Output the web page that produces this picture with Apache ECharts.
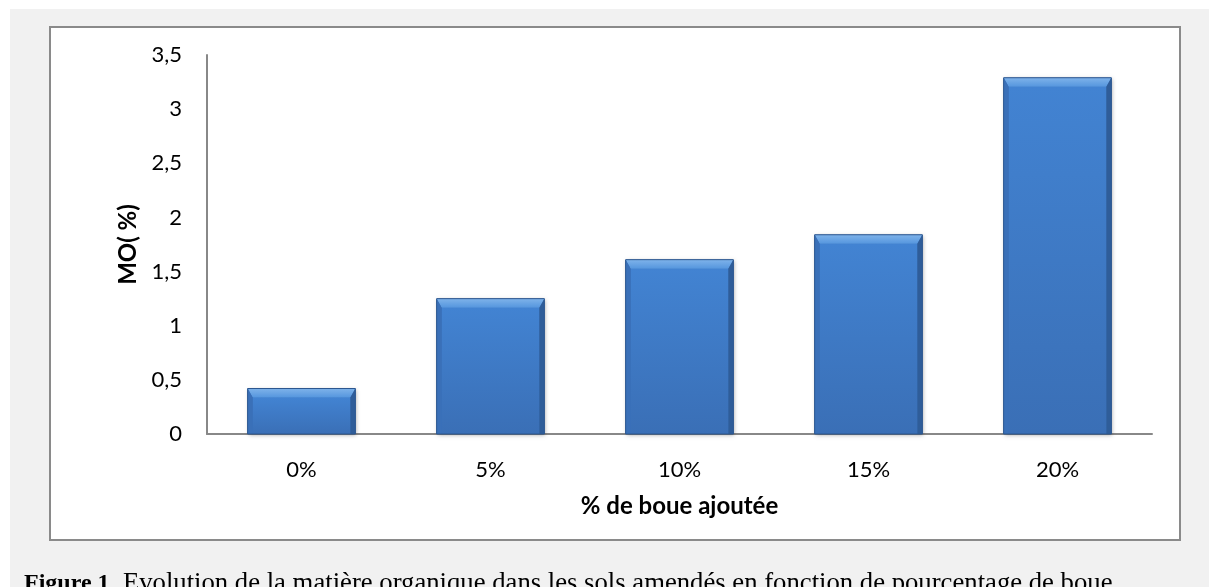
<!DOCTYPE html>
<html>
<head>
<meta charset="utf-8">
<script src="https://cdn.jsdelivr.net/npm/echarts@6/dist/echarts.min.js"></script>
<style>
html,body{margin:0;padding:0;background:#fff;}
#c{width:1209px;height:587px;}
</style>
</head>
<body>
<div id="c"></div>
<script>
const categories = ['0%', '5%', '10%', '15%', '20%'];
const moValues = [0.42, 1.25, 1.61, 1.84, 3.29];
const yTicks = ['0', '0,5', '1', '1,5', '2', '2,5', '3', '3,5'];
const yAxisTitle = 'MO( %)';
const xAxisTitle = '% de boue ajoutée';
const captionBold = 'Figure 1';
const captionText = '. Evolution de la matière organique dans les sols amendés en fonction de pourcentage de boue';

const chart = echarts.init(document.getElementById('c'), null, {renderer: 'canvas'});

function renderBar(params, api) {
  const v = api.value(1);
  const idx = api.value(0);
  const top = api.coord([idx, v]);
  const base = api.coord([idx, 0]);
  const bw = api.size([1, 0])[0] * 0.57;
  const x0 = top[0] - bw / 2, x1 = top[0] + bw / 2;
  const y0 = top[1], y1 = base[1];
  const b = Math.min(9, (y1 - y0) / 3);
  return {
    type: 'group',
    children: [
      {type: 'rect', shape: {x: x0, y: y0, width: bw, height: y1 - y0},
        style: {fill: '#3a72bb', shadowBlur: 4, shadowColor: 'rgba(0,0,0,0.35)', shadowOffsetX: 1, shadowOffsetY: 1}},
      {type: 'rect', shape: {x: x0 + 5, y: y0 + b, width: bw - 10, height: y1 - y0 - b},
        style: {fill: new echarts.graphic.LinearGradient(0, 0, 0, 1, [
          {offset: 0, color: '#4283d2'}, {offset: 1, color: '#3a6fb6'}])}},
      {type: 'polygon', shape: {points: [[x0, y0], [x1, y0], [x1 - 5, y0 + b], [x0 + 5, y0 + b]]},
        style: {fill: new echarts.graphic.LinearGradient(0, 0, 0, 1, [
          {offset: 0, color: '#7fb3ea'}, {offset: 1, color: '#5596de'}])}},
      {type: 'polygon', shape: {points: [[x0, y0], [x0 + 5, y0 + b], [x0 + 5, y1], [x0, y1]]},
        style: {fill: '#3a70b8'}},
      {type: 'polygon', shape: {points: [[x1, y0], [x1 - 5, y0 + b], [x1 - 5, y1], [x1, y1]]},
        style: {fill: '#2f5d99'}},
      {type: 'rect', shape: {x: x0, y: y0, width: bw, height: y1 - y0},
        style: {fill: 'none', stroke: '#2b568f', lineWidth: 1}}
    ]
  };
}

const option = {
  backgroundColor: '#ffffff',
  animation: false,
  graphic: [
    {type: 'rect', z: -10, shape: {x: 10, y: 9, width: 1199, height: 578}, style: {fill: '#f1f1f1'}},
    {type: 'rect', z: -9, shape: {x: 50, y: 27, width: 1130, height: 513}, style: {fill: '#ffffff', stroke: '#8a8a8a', lineWidth: 2}},
    {type: 'text', left: 24, top: 570, style: {
      text: '{b|' + captionBold + '}{n|' + captionText + '}',
      rich: {
        b: {fontFamily: 'Liberation Serif', fontWeight: 'bold', fontSize: 24, fill: '#000'},
        n: {fontFamily: 'Liberation Serif', fontSize: 26.7, fill: '#000'}
      }
    }}
  ],
  grid: {left: 207, right: 57, top: 55, bottom: 153},
  xAxis: {
    type: 'category',
    data: categories,
    axisLine: {show: true, lineStyle: {color: '#888', width: 2}},
    axisTick: {show: false},
    axisLabel: {color: '#000', fontFamily: 'Lato', fontSize: 22, margin: 25},
    name: xAxisTitle,
    nameLocation: 'middle',
    nameGap: 60,
    nameTextStyle: {color: '#000', fontFamily: 'Lato', fontWeight: 'bold', fontSize: 24}
  },
  yAxis: {
    type: 'value',
    min: 0, max: 3.5, interval: 0.5,
    axisLine: {show: true, lineStyle: {color: '#888', width: 2}},
    axisTick: {show: false},
    splitLine: {show: false},
    axisLabel: {color: '#000', fontFamily: 'Lato', fontSize: 22, margin: 25,
      formatter: function (v) { return yTicks[Math.round(v / 0.5)]; }},
    name: yAxisTitle,
    nameLocation: 'middle',
    nameGap: 67,
    nameRotate: 90,
    nameTextStyle: {color: '#000', fontFamily: 'Lato', fontWeight: 'bold', fontSize: 24}
  },
  series: [{
    type: 'custom',
    renderItem: renderBar,
    data: moValues.map((v, i) => [i, v]),
    encode: {x: 0, y: 1}
  }]
};
chart.setOption(option);
</script>
</body>
</html>
